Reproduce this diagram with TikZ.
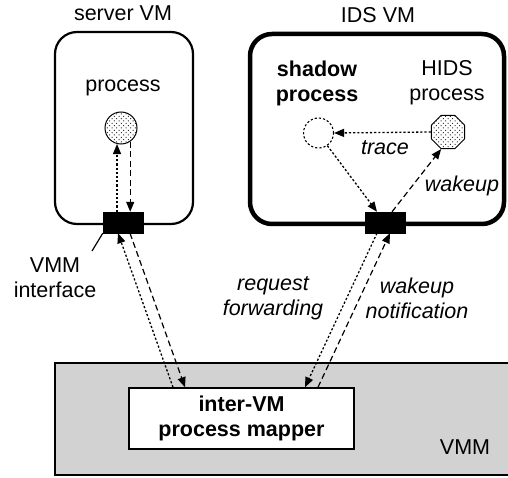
\documentclass[tikz,border=0pt]{standalone}
\usepackage{fontspec}
\setmainfont{Liberation Sans}
\usetikzlibrary{arrows.meta,patterns.meta,shapes.geometric,calc}
\definecolor{vmmgray}{RGB}{210,210,210}
\begin{document}
\begin{tikzpicture}[x=1pt,y=-1pt,
  font=\fontsize{21.5}{25}\selectfont,
  tip/.style={-{Triangle[length=10pt,width=8pt]}},
  dotline/.style={dash pattern=on 2.2pt off 2pt, line width=1.3pt},
  dashline/.style={dash pattern=on 6pt off 3.5pt, line width=1.2pt},
  vmbox/.style={draw, rounded corners=22pt, inner sep=0pt},
  ifbox/.style={fill=black, draw=black, inner sep=0pt, minimum width=40pt, minimum height=21pt},
  dotfill/.style={preaction={fill=white}, pattern={Dots[radius=0.7pt,distance=3.3pt,angle=45]}, pattern color=black!80},
  lbl/.style={align=center, inner sep=0pt},
]
\useasboundingbox (0,0) rectangle (508,478);

% virtual machine monitor layer
\fill[vmmgray] (55,363) rectangle (508,475);
\draw[line width=1.5pt] (508,363) -- (55,363) -- (55,475) -- (508,475);
\node[draw, fill=white, line width=1.5pt, minimum width=225pt, minimum height=61pt,
      inner sep=0pt, align=center, font=\fontsize{21.5}{25}\selectfont\bfseries]
      (mapper) at (241.5,418.5) {inter-VM\\process mapper};
\node[lbl] (vmmlbl) at (465,447) {VMM};

% the two virtual machines
\node[vmbox, line width=2.2pt, minimum width=138pt, minimum height=192pt] (srv) at (124,128) {};
\node[vmbox, line width=4.5pt, minimum width=254pt, minimum height=190pt] (ids) at (377,129) {};
\node[lbl] (srvlbl) at (123,13) {server VM};
\node[lbl] (idslbl) at (378,15) {IDS VM};

% VMM interfaces
\node[ifbox] (srvif) at (123,222.5) {};
\node[ifbox] (idsif) at (385,222.5) {};

% processes
\node[lbl] (proclbl) at (123,88) {process};
\node[circle, draw, line width=1pt, minimum size=32pt, inner sep=0pt, dotfill] (proc) at (121,128) {};

\node[lbl, font=\fontsize{21.5}{25}\selectfont\bfseries] (shlbl) at (317,83) {shadow\\process};
\node[circle, draw, dash pattern=on 2.2pt off 2pt, line width=1.1pt, minimum size=30pt, inner sep=0pt] (shadow) at (318.5,133) {};

\node[lbl] (hidslbl) at (447,83) {HIDS\\process};
\node[regular polygon, regular polygon sides=8, draw, line width=1pt, minimum size=36pt,
      inner sep=0pt, dotfill] (hids) at (448,132) {};

% traffic inside the server VM
\draw[dotline, tip] (srvif.north -| proc.-104) -- (proc.-104);
\draw[dashline, tip] (proc.-56) -- (srvif.north -| proc.-56);

% traffic inside the IDS VM
\draw[dotline, tip] (hids.west) -- (shadow.east);
\draw[dotline, tip] (shadow.-55) -- ([xshift=-8pt]idsif.north);
\draw[dashline, tip] ([xshift=7pt]idsif.north) -- (hids.-112);
\node[lbl, font=\fontsize{21.5}{25}\selectfont\itshape] (tracelbl) at (385,148) {trace};
\node[lbl, font=\fontsize{21.5}{25}\selectfont\itshape] (wakelbl) at (462,186) {wakeup};

% traffic through the process mapper
\draw[dotline, tip] ([xshift=-68.5pt]mapper.north) -- ([xshift=-5pt]srvif.south);
\draw[dashline, tip] ([xshift=7pt]srvif.south) -- ([xshift=-56.5pt]mapper.north);
\draw[dotline, tip] ([xshift=-8pt]idsif.south) -- ([xshift=63.5pt]mapper.north);
\draw[dashline, tip] ([xshift=76.5pt]mapper.north) -- ([xshift=5pt]idsif.south);

\node[lbl, font=\fontsize{21.5}{25}\selectfont\itshape] (reqlbl) at (273,298) {request\\forwarding};
\node[lbl, font=\fontsize{21.5}{25}\selectfont\itshape] (notelbl) at (417,298) {wakeup\\notification};

% interface callout
\coordinate (callout) at (92,251);
\draw[line width=1.2pt] (srvif.south west) -- (callout);
\node[lbl] (iflbl) at (55,278) {VMM\\interface};
\end{tikzpicture}
\end{document}
